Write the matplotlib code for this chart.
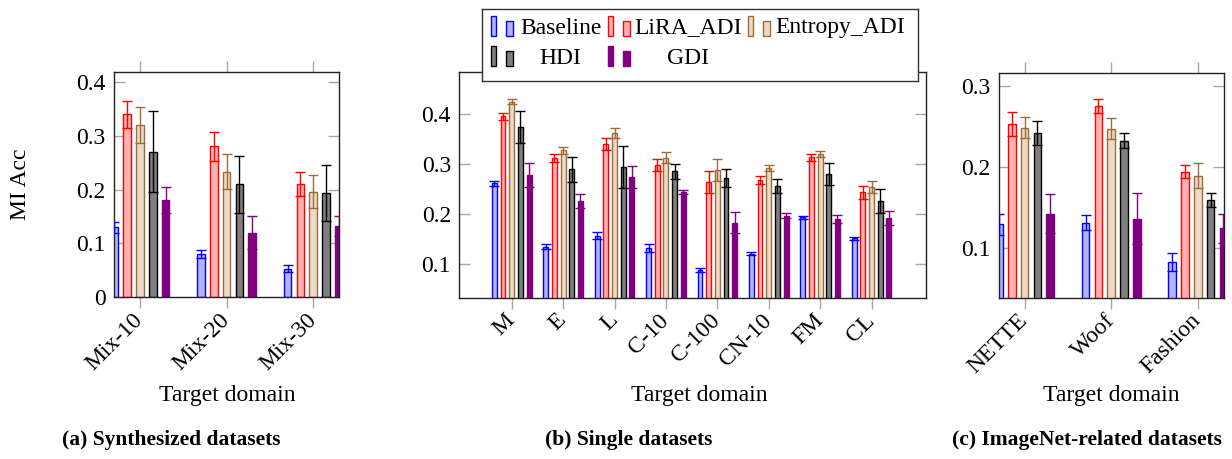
import matplotlib
matplotlib.use("Agg")
import matplotlib.pyplot as plt
from matplotlib.patches import Rectangle
import numpy as np

plt.rcParams['font.family'] = ['Liberation Serif', 'DejaVu Serif']

# (a) synthesized datasets
cats_a = ['Mix-10', 'Mix-20', 'Mix-30']
baseline_a = [0.13, 0.08, 0.053]
baseline_a_err = [0.010, 0.008, 0.006]
lira_a = [0.34, 0.28, 0.21]
lira_a_err = [0.025, 0.027, 0.022]
entropy_a = [0.32, 0.233, 0.196]
entropy_a_err = [0.033, 0.032, 0.031]
hdi_a = [0.27, 0.21, 0.194]
hdi_a_err = [0.075, 0.053, 0.052]
gdi_a = [0.18, 0.12, 0.132]
gdi_a_err = [0.024, 0.031, 0.018]

# (b) single datasets
cats_b = ['M', 'E', 'L', 'C-10', 'C-100', 'CN-10', 'FM', 'CL']
baseline_b = [0.262, 0.135, 0.157, 0.133, 0.089, 0.121, 0.194, 0.152]
baseline_b_err = [0.005, 0.005, 0.007, 0.008, 0.004, 0.003, 0.003, 0.003]
lira_b = [0.396, 0.313, 0.341, 0.298, 0.264, 0.268, 0.314, 0.244]
lira_b_err = [0.007, 0.008, 0.012, 0.012, 0.022, 0.008, 0.007, 0.013]
entropy_b = [0.425, 0.328, 0.362, 0.313, 0.288, 0.293, 0.321, 0.254]
entropy_b_err = [0.005, 0.007, 0.010, 0.011, 0.022, 0.006, 0.006, 0.012]
hdi_b = [0.375, 0.29, 0.295, 0.286, 0.272, 0.257, 0.28, 0.226]
hdi_b_err = [0.032, 0.025, 0.042, 0.015, 0.018, 0.014, 0.022, 0.024]
gdi_b = [0.279, 0.226, 0.275, 0.244, 0.183, 0.197, 0.19, 0.193]
gdi_b_err = [0.024, 0.014, 0.022, 0.004, 0.021, 0.005, 0.008, 0.014]

# (c) ImageNet-related datasets
cats_c = ['NETTE', 'Woof', 'Fashion']
baseline_c = [0.129, 0.131, 0.082]
baseline_c_err = [0.013, 0.009, 0.011]
lira_c = [0.253, 0.275, 0.194]
lira_c_err = [0.015, 0.009, 0.008]
entropy_c = [0.248, 0.247, 0.189]
entropy_c_err = [0.013, 0.013, 0.015]
hdi_c = [0.242, 0.232, 0.159]
hdi_c_err = [0.015, 0.009, 0.009]
gdi_c = [0.142, 0.136, 0.124]
gdi_c_err = [0.024, 0.031, 0.018]

methods = ['Baseline', 'LiRA_ADI', 'Entropy_ADI', 'HDI', 'GDI']
faces = ['#b3b3ff', '#ffb3b3', '#ecd9c6', '#808080', '#800080']
edges = ['#0000ff', '#ff0000', '#9c6c3c', '#000000', '#800080']

TICK_GREY = '#a8a8a8'
FS = 17


def draw_panel(ax, cats, series, errs, step, width, xlim, ylim, yticks):
    x = np.arange(len(cats))
    for i, (vals, err) in enumerate(zip(series, errs)):
        pos = x + (i - 2) * step
        ax.bar(pos, vals, width=width, color=faces[i], edgecolor=edges[i],
               linewidth=1.0, zorder=2)
        ax.errorbar(pos, vals, yerr=err, fmt='none', ecolor=edges[i],
                    elinewidth=1.0, capsize=3.8, capthick=1.0, zorder=3)
    ax.set_xlim(*xlim)
    ax.set_ylim(*ylim)
    ax.set_xticks(x)
    ax.set_xticklabels(cats, rotation=45, ha='right', va='center',
                       rotation_mode='anchor', fontsize=FS)
    ax.set_yticks(yticks)
    ax.set_yticklabels(['0' if t == 0 else f'{t:g}' for t in yticks], fontsize=FS)
    ax.tick_params(axis='x', direction='out', length=8, width=1.0,
                   color=TICK_GREY, top=True, pad=6)
    ax.tick_params(axis='y', direction='in', length=8, width=1.0,
                   color=TICK_GREY, right=True, pad=6)
    for s in ax.spines.values():
        s.set_color('#222222')
        s.set_linewidth(1.0)


W, H = 1232, 459
fig = plt.figure(figsize=(W / 100, H / 100), dpi=100)


def px_axes(left, top, right, bottom):
    return fig.add_axes([left / W, 1 - bottom / H, (right - left) / W, (bottom - top) / H])


ax_a = px_axes(114, 72, 339.3, 297.3)
ax_b = px_axes(459.3, 72.3, 926, 298)
ax_c = px_axes(998.7, 72.7, 1223.7, 297.7)

draw_panel(ax_a, cats_a,
           [baseline_a, lira_a, entropy_a, hdi_a, gdi_a],
           [baseline_a_err, lira_a_err, entropy_a_err, hdi_a_err, gdi_a_err],
           0.148, 0.088, (-0.30, 2.30), (0, 0.418), [0, 0.1, 0.2, 0.3, 0.4])
draw_panel(ax_b, cats_b,
           [baseline_b, lira_b, entropy_b, hdi_b, gdi_b],
           [baseline_b_err, lira_b_err, entropy_b_err, hdi_b_err, gdi_b_err],
           0.169, 0.095, (-1.02, 8.06), (0.0326, 0.484), [0.1, 0.2, 0.3, 0.4])
draw_panel(ax_c, cats_c,
           [baseline_c, lira_c, entropy_c, hdi_c, gdi_c],
           [baseline_c_err, lira_c_err, entropy_c_err, hdi_c_err, gdi_c_err],
           0.148, 0.088, (-0.30, 2.30), (0.0383, 0.316), [0.1, 0.2, 0.3])

ax_a.set_ylabel('MI Acc', fontsize=FS)
ax_a.yaxis.set_label_coords((31 - 114) / 225.3, 0.5)

for cx in (227, 699, 1111):
    fig.text(cx / W, 1 - 395 / H, 'Target domain', ha='center', va='center', fontsize=FS)

for cx, cap in ((171.5, '(a) Synthesized datasets'), (628.6, '(b) Single datasets'),
                (1087, '(c) ImageNet-related datasets')):
    fig.text(cx / W, 1 - 440 / H, cap, ha='center', va='center',
             fontsize=15.5, fontweight='bold')

# legend box, laid out in pixel units
lg = px_axes(482, 9, 918, 81)
lg.set_xlim(482, 918)
lg.set_ylim(81, 9)
lg.set_xticks([])
lg.set_yticks([])
lg.set_zorder(5)
for s in lg.spines.values():
    s.set_color('#333333')
    s.set_linewidth(1.0)

col_x = [490.7, 607.7, 747.5]
text_cx = [560.7, 687.8, 840]
row_y = [36, 66]
for k, name in enumerate(methods):
    r, c = divmod(k, 3)
    x0, yb = col_x[c], row_y[r]
    lg.add_patch(Rectangle((x0, yb - 20), 5.5, 20, facecolor=faces[k],
                           edgecolor=edges[k], linewidth=1.0))
    lg.add_patch(Rectangle((x0 + 15.5, yb - 15), 7, 15, facecolor=faces[k],
                           edgecolor=edges[k], linewidth=1.0))
    lg.text(text_cx[c], yb - 8, name, ha='center', va='center', fontsize=FS)

fig.savefig('out.png', dpi=100)
